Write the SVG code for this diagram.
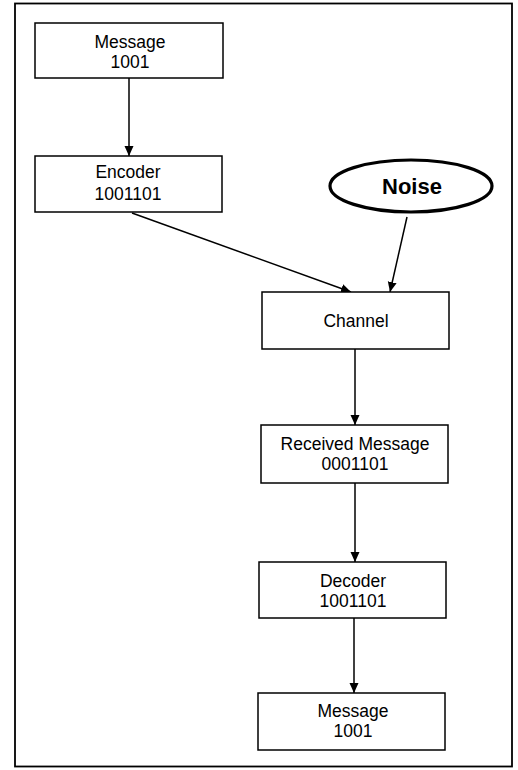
<svg xmlns="http://www.w3.org/2000/svg" width="518" height="770" viewBox="0 0 518 770">
  <style>
    .box { fill: #ffffff; stroke: #000000; stroke-width: 1.5; }
    .lbl { font-family: "Liberation Sans", Arial, sans-serif; font-size: 17.5px; fill: #000000; text-anchor: middle; }
    .noise { font-family: "Liberation Sans", Arial, sans-serif; font-size: 22px; font-weight: bold; fill: #000000; text-anchor: middle; }
    .edge { stroke: #000000; stroke-width: 1.5; fill: none; marker-end: url(#arrow); }
  </style>
  <defs>
    <marker id="arrow" viewBox="0 0 10 10" refX="10" refY="5" markerWidth="10" markerHeight="10" markerUnits="userSpaceOnUse" orient="auto">
      <path d="M0,0.5 L10,5 L0,9.5 Z" fill="#000000"/>
    </marker>
  </defs>

  <rect width="518" height="770" fill="#ffffff"/>
  <!-- outer frame -->
  <rect x="15" y="3.5" width="497" height="763" fill="none" stroke="#000000" stroke-width="1.8"/>

  <g id="connectors">
    <line class="edge" x1="129" y1="78" x2="129" y2="156"/>
    <line class="edge" x1="132" y1="213" x2="351" y2="292"/>
    <line class="edge" x1="407" y1="217" x2="390" y2="292"/>
    <line class="edge" x1="355" y1="349" x2="355" y2="425"/>
    <line class="edge" x1="355" y1="483" x2="355" y2="562"/>
    <line class="edge" x1="354" y1="618" x2="354" y2="693"/>
  </g>

  <g id="message-in">
    <rect class="box" x="35" y="23" width="188" height="55"/>
    <text class="lbl" x="130" y="48">Message</text>
    <text class="lbl" x="130" y="68">1001</text>
  </g>

  <g id="encoder">
    <rect class="box" x="35" y="156" width="187" height="56"/>
    <text class="lbl" x="128" y="178">Encoder</text>
    <text class="lbl" x="128" y="200">1001101</text>
  </g>

  <g id="noise">
    <ellipse cx="411" cy="186" rx="81" ry="26" fill="#ffffff" stroke="#000000" stroke-width="3.2"/>
    <text class="noise" x="412" y="194">Noise</text>
  </g>

  <g id="channel">
    <rect class="box" x="262" y="292" width="187" height="57"/>
    <text class="lbl" x="356" y="327">Channel</text>
  </g>

  <g id="received">
    <rect class="box" x="261" y="425" width="187" height="58"/>
    <text class="lbl" x="355" y="450">Received Message</text>
    <text class="lbl" x="355" y="470">0001101</text>
  </g>

  <g id="decoder">
    <rect class="box" x="259" y="562" width="187" height="56"/>
    <text class="lbl" x="353" y="587">Decoder</text>
    <text class="lbl" x="353" y="607">1001101</text>
  </g>

  <g id="message-out">
    <rect class="box" x="258" y="693" width="187" height="57"/>
    <text class="lbl" x="353" y="717">Message</text>
    <text class="lbl" x="353" y="737">1001</text>
  </g>
</svg>
